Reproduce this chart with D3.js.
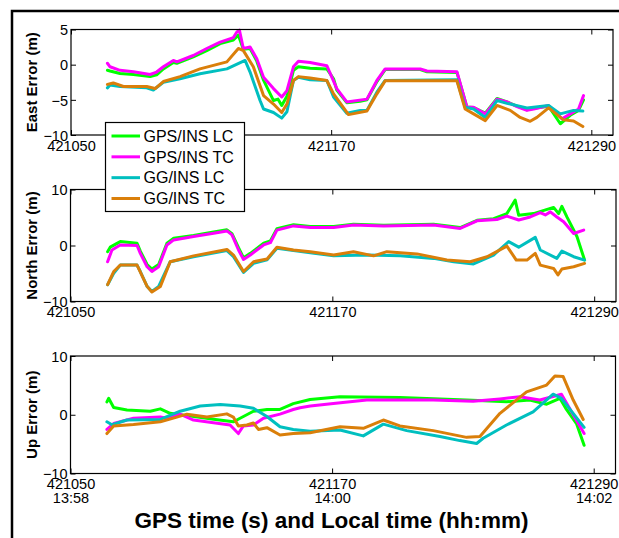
<!DOCTYPE html>
<html><head><meta charset="utf-8">
<script src="https://cdn.jsdelivr.net/npm/d3@7"></script>
<style>
html,body{margin:0;padding:0;background:#fff;}
svg{display:block;font-family:"Liberation Sans",Arial,sans-serif;}
</style></head><body>
<svg id="c" width="619" height="538"></svg>
<script>
// ---------------- DATA ----------------
const T0 = 421050;                    // GPS time origin (s); series times are seconds after T0
const xDomain = [421050, 421300];
const xTicks = [421050, 421170, 421290];
const xTimeLabels = ["13:58", "14:00", "14:02"];
const seriesNames = ["GPS/INS LC", "GPS/INS TC", "GG/INS LC", "GG/INS TC"];
const seriesColors = ["#00ff00", "#ff00ff", "#00bfbf", "#da7f0a"];

const eastTicks = [5, 0, -5, -10];
const northTicks = [10, 0, -10];
const upTicks = [10, 0, -10];

// East error (m)
const eastGpsLc = [[16.8,-0.8],[18,-0.9],[22.6,-1.25],[28.8,-1.4],[36.5,-1.7],[39.5,-1.45],[42.6,-0.6],[47.2,0.3],[48.8,0.2],[56.4,1.1],[62.6,2.0],[68.8,3.0],[74.9,3.5],[77.2,4.2],[79.5,2.2],[82.6,2.3],[85.7,0.5],[88.8,-2.2],[93.4,-5.1],[95.5,-4.9],[97.2,-5.8],[99.6,-4.5],[102.6,-0.8],[104.9,-0.3],[110.3,-0.5],[118,-0.6],[121.1,-2.0],[122.6,-3.6],[127.2,-5.4],[133.4,-5.2],[136.5,-5.0],[141.1,-2.4],[144.9,-0.7],[161.1,-0.7],[164.2,-1.0],[178,-1.1],[182.6,-6.0],[185.7,-6.1],[191.1,-6.9],[196.5,-4.8],[201.1,-5.3],[205.7,-5.9],[210.3,-6.4],[213.4,-6.2],[220.3,-5.9],[225.7,-8.4],[230.3,-7.2],[234.1,-6.5],[236.4,-5.0]];
const eastGpsTc = [[16.8,0.2],[18,-0.3],[22.6,-0.8],[28.8,-1.0],[36.5,-1.4],[39.5,-1.05],[42.6,-0.3],[47.2,0.6],[48.8,0.4],[56.4,1.3],[62.6,2.3],[68.8,3.2],[74.9,3.85],[76.5,4.65],[77.7,4.9],[79.5,2.3],[82.6,2.5],[85.7,0.85],[88.8,-1.8],[93.4,-3.4],[97.2,-4.6],[99.6,-3.7],[102.6,-0.3],[104.9,0.5],[110.3,0.3],[118,-0.15],[122.6,-3.4],[127.2,-5.3],[136.5,-4.9],[141.1,-2.25],[144.9,-0.6],[161.1,-0.6],[164.2,-0.9],[178,-1.0],[182.6,-6.05],[185.7,-6.05],[191.1,-7.0],[196.5,-4.9],[201.1,-5.3],[205.7,-5.95],[210.3,-6.5],[213.4,-6.3],[220.3,-5.8],[226.5,-7.7],[230.3,-7.0],[234.1,-6.3],[236.4,-4.4]];
const eastGgLc = [[16.8,-3.3],[18,-2.9],[22.6,-3.1],[34.9,-3.3],[38,-3.6],[42.6,-2.5],[50.3,-2.0],[59.5,-1.3],[71.9,-0.6],[80.3,0.6],[82.6,-1.05],[87.2,-5.1],[88.8,-6.3],[93.4,-6.8],[97.2,-7.6],[99.6,-6.7],[102.6,-2.25],[104.9,-1.8],[110.3,-2.15],[118,-2.25],[121.1,-4.6],[127.2,-6.9],[133.4,-6.5],[136.5,-6.5],[141.1,-3.9],[144.9,-2.25],[178,-2.15],[181.8,-6.05],[185.7,-6.3],[191.1,-7.5],[196.5,-5.1],[201.1,-5.5],[210.3,-6.15],[220.3,-5.8],[225.7,-7.0],[231.8,-6.5],[236.1,-6.6]];
const eastGgTc = [[16.8,-2.8],[19.5,-2.6],[24.2,-3.1],[34.9,-3.1],[38.8,-3.4],[42.6,-2.4],[50.3,-1.7],[59.5,-0.6],[71.9,0.4],[77.2,2.3],[79.5,2.0],[84.1,-0.3],[88.8,-4.4],[93.4,-5.6],[97.2,-6.8],[99.6,-5.6],[102.6,-2.25],[104.9,-1.7],[110.3,-1.9],[118,-2.25],[121.1,-4.15],[128,-7.1],[136.5,-6.6],[141.1,-4.15],[144.9,-2.3],[178,-2.3],[181.8,-6.3],[185.7,-7.0],[191.1,-7.95],[196.5,-5.8],[202.6,-6.5],[207.2,-7.5],[211.8,-8.05],[214.9,-7.5],[220.3,-6.15],[227.2,-7.85],[231.8,-8.0],[236.1,-8.8]];

// North error (m)
const northGpsLc = [[17,-1.1],[18.2,-0.3],[22.8,0.7],[30.5,0.4],[32,-1.0],[35.1,-3.4],[37.3,-4.2],[40.4,-3.4],[44.2,0.4],[47.3,1.3],[56.4,1.8],[65.6,2.4],[71.7,2.8],[74,2.1],[77,-0.4],[79.3,-2.2],[82.4,-1.4],[88.5,0.4],[91.6,0.8],[94.6,3.0],[102.2,3.7],[109.9,3.4],[120.6,3.4],[129.7,3.8],[143.5,3.6],[166.4,3.8],[178.6,3.2],[186.3,4.5],[193.9,4.8],[200,5.7],[203.8,8.1],[205.4,5.4],[212.2,5.7],[221.4,6.8],[223.7,5.7],[225.2,7.0],[227.5,5.1],[232.1,1.6],[235.6,-2.6]];
const northGpsTc = [[17,-2.9],[19,-0.8],[22.8,0.1],[30.5,0.0],[32,-1.4],[35.1,-3.8],[37.3,-4.65],[40.4,-3.8],[44.2,0.1],[47.3,1.0],[56.4,1.6],[65.6,2.2],[71.7,2.6],[74,1.9],[77,-0.8],[79.3,-2.5],[82.4,-1.7],[88.5,0.1],[91.6,0.5],[94.6,2.75],[102.2,3.5],[110,3.2],[120.6,3.2],[129.7,3.65],[143.5,3.5],[166.4,3.65],[178.6,3.05],[186.3,4.4],[195.4,4.65],[200,5.25],[205.4,4.55],[210.7,5.1],[215.3,5.85],[217.6,5.45],[219.9,6.0],[222.9,5.1],[226,4.25],[230.6,2.15],[235.2,2.75]];
const northGgLc = [[17,-7.0],[19.8,-4.95],[22.8,-3.5],[30.5,-3.5],[32,-4.65],[35.1,-7.3],[37.3,-8.2],[40.4,-7.3],[45.7,-2.9],[56.4,-2.0],[71.7,-0.9],[74.7,-2.0],[79.3,-4.8],[83.9,-3.2],[90.1,-2.55],[94.6,-0.5],[102.2,-0.9],[109.9,-1.3],[120.6,-1.85],[135.9,-1.7],[151.1,-1.85],[166.4,-2.3],[175.6,-2.9],[184.7,-3.3],[193.9,-1.7],[200.8,0.7],[205.4,-0.3],[213,1.45],[215.3,-0.8],[222.9,-2.3],[225.2,-1.0],[230.6,-2.0],[235.6,-2.6]];
const northGgTc = [[17,-7.0],[19.8,-4.65],[22.8,-3.5],[30.5,-3.5],[35.1,-7.3],[37.3,-8.3],[41.2,-7.3],[45.7,-2.9],[56.4,-1.85],[71.7,-0.7],[74.7,-1.7],[79.3,-4.65],[83.9,-2.9],[90.1,-2.4],[94.6,-0.3],[102.2,-0.8],[109.9,-1.1],[120.6,-1.7],[129.7,-1.1],[138.9,-1.85],[145,-1.1],[158.8,-1.5],[172.5,-2.6],[183.2,-2.9],[190.9,-2.0],[200,-0.1],[204.3,-2.6],[209.2,-2.6],[213,-1.4],[215.3,-3.5],[221.4,-4.1],[223.4,-5.25],[225.2,-4.2],[230.6,-3.8],[235.6,-3.2]];

// Up error (m)
const upGpsLc = [[16.7,2.2],[17.5,2.8],[19.8,1.25],[25.9,0.8],[36.6,0.6],[41.2,1.0],[45.7,0.24],[53.4,-0.15],[65.6,-0.75],[74.7,-1.2],[77.8,-0.6],[83.9,0.6],[90.1,0.9],[96.1,0.9],[102.2,1.9],[109.9,2.6],[123.6,3.05],[151.1,2.95],[181.7,2.5],[200,2.2],[210.7,2.5],[218.4,1.8],[224.5,2.8],[227.5,0.9],[232.1,-1.5],[235.6,-5.2]];
const upGpsTc = [[16.7,-2.5],[19.8,-1.5],[28.9,-0.6],[41.2,-0.4],[44.2,-0.6],[50.3,0.1],[56.4,-0.9],[65.6,-1.35],[73.2,-1.75],[77,-3.2],[79.3,-1.9],[83.9,-1.75],[88.5,-0.6],[96.1,0.1],[102.2,0.9],[105.3,1.2],[110,1.5],[120.6,1.9],[135.9,2.5],[166.4,2.5],[184.7,2.3],[197,2.7],[206.1,3.05],[215.3,2.5],[225.2,3.5],[235.6,-3.2]];
const upGgLc = [[16.7,-1.2],[19,-1.7],[25.9,-0.9],[41.2,-0.8],[50.3,0.6],[59.5,1.5],[68.7,1.75],[77.8,1.5],[83.9,1.1],[90.1,-0.3],[96.1,-2.05],[102.2,-2.5],[109.9,-2.8],[123.6,-2.6],[134.3,-3.6],[143.5,-1.6],[154.2,-2.7],[169.5,-3.7],[178.6,-4.4],[186.3,-4.9],[189.3,-4.0],[200,-1.75],[212.2,0.5],[221.4,3.5],[225.2,2.8],[235.6,-2.15]];
const upGgTc = [[16.7,-3.2],[19.8,-1.9],[28.9,-1.65],[41.2,-1.2],[48.8,-0.4],[53.4,0.1],[62.6,-0.4],[71.7,0.15],[74.7,-0.4],[77,-1.9],[80.9,-1.75],[83.9,-1.4],[86.2,-2.5],[90.1,-2.2],[96.1,-3.45],[102.2,-3.2],[109.9,-3.05],[123.6,-2.05],[134.3,-2.3],[143.5,-0.9],[151.1,-1.9],[166.4,-2.7],[181.7,-3.85],[187.8,-3.7],[197,0.24],[209.2,3.9],[218.4,5.05],[222.2,6.6],[226,6.5],[230.6,2.5],[235.2,-0.8]];

// ---------------- LAYOUT ----------------
const svg = d3.select("#c");
const FONT = 14.5;

const panels = [
  {label: "East Error (m)", domain: [-10, 5], ticks: eastTicks, box: [71, 29.5, 613, 135],
   series: [eastGpsLc, eastGpsTc, eastGgLc, eastGgTc], timeRow: false},
  {label: "North Error (m)", domain: [-10, 10], ticks: northTicks, box: [70.5, 189.5, 616, 301.5],
   series: [northGpsLc, northGpsTc, northGgLc, northGgTc], timeRow: false},
  {label: "Up Error (m)", domain: [-10, 10], ticks: upTicks, box: [70.5, 356, 615.5, 473.5],
   series: [upGpsLc, upGpsTc, upGgLc, upGgTc], timeRow: true}
];

function styleAxis(g) {
  g.select(".domain").remove();
  g.attr("font-family", null).attr("font-size", FONT).attr("fill", "#000");
  g.selectAll(".tick line").attr("stroke", "#000");
  g.selectAll(".tick text").attr("fill", "#000");
}

panels.forEach(p => {
  const [x0, y0, x1, y1] = p.box;
  const x = d3.scaleLinear().domain(xDomain).range([x0, x1]);
  const y = d3.scaleLinear().domain(p.domain).range([y1, y0]);
  const g = svg.append("g");

  const line = d3.line().x(d => x(T0 + d[0])).y(d => y(d[1])).curve(d3.curveLinear);
  p.series.forEach((s, i) => {
    g.append("path").attr("d", line(s)).attr("fill", "none")
      .attr("stroke", seriesColors[i]).attr("stroke-width", 3)
      .attr("stroke-linejoin", "round").attr("stroke-linecap", "round");
  });

  g.append("rect").attr("x", x0).attr("y", y0).attr("width", x1 - x0).attr("height", y1 - y0)
    .attr("fill", "none").attr("stroke", "#000").attr("stroke-width", 1.2);

  const gb = g.append("g").attr("transform", `translate(0,${y1})`)
    .call(d3.axisBottom(x).tickValues(xTicks).tickSize(-5).tickSizeOuter(0).tickPadding(5.5).tickFormat(d3.format("d")));
  styleAxis(gb);
  if (p.timeRow) {
    gb.selectAll(".tick text").each(function(d, i) {
      d3.select(this).append("tspan").attr("x", 0).attr("dy", "0.92em").text(xTimeLabels[i]);
    });
  }
  const gt = g.append("g").attr("transform", `translate(0,${y0})`)
    .call(d3.axisTop(x).tickValues(xTicks).tickSize(-5).tickSizeOuter(0).tickFormat(""));
  styleAxis(gt);
  const gl = g.append("g").attr("transform", `translate(${x0},0)`)
    .call(d3.axisLeft(y).tickValues(p.ticks).tickSize(-5).tickSizeOuter(0).tickPadding(3).tickFormat(d3.format("d")));
  styleAxis(gl);
  gl.selectAll(".tick text").attr("dy", "0.36em");
  const gr = g.append("g").attr("transform", `translate(${x1},0)`)
    .call(d3.axisRight(y).tickValues(p.ticks).tickSize(-5).tickSizeOuter(0).tickFormat(""));
  styleAxis(gr);

  svg.append("text").attr("transform", `translate(36.5,${(y0 + y1) / 2}) rotate(-90)`)
    .attr("text-anchor", "middle").attr("font-weight", "bold").attr("font-size", 15)
    .text(p.label);
});

// x axis title
svg.append("text").attr("x", 331.5).attr("y", 528).attr("text-anchor", "middle")
  .attr("font-weight", "bold").attr("font-size", 22.5)
  .text("GPS time (s) and Local time (hh:mm)");

// legend
const lg = svg.append("g");
lg.append("rect").attr("x", 105.5).attr("y", 122.5).attr("width", 139).attr("height", 89)
  .attr("fill", "#fff").attr("stroke", "#000").attr("stroke-width", 1.2);
const legendY = d3.scalePoint().domain(seriesNames).range([136, 198.5]);
seriesNames.forEach((n, i) => {
  const yy = legendY(n);
  lg.append("line").attr("x1", 111.5).attr("x2", 140).attr("y1", yy).attr("y2", yy)
    .attr("stroke", seriesColors[i]).attr("stroke-width", 3);
  lg.append("text").attr("x", 143.5).attr("y", yy).attr("dy", "0.36em")
    .attr("font-size", 16).text(n);
});

// outer frame
svg.append("path").attr("d", "M12,540V11H621").attr("fill", "none")
  .attr("stroke", "#000").attr("stroke-width", 2.5);
</script>
</body></html>
